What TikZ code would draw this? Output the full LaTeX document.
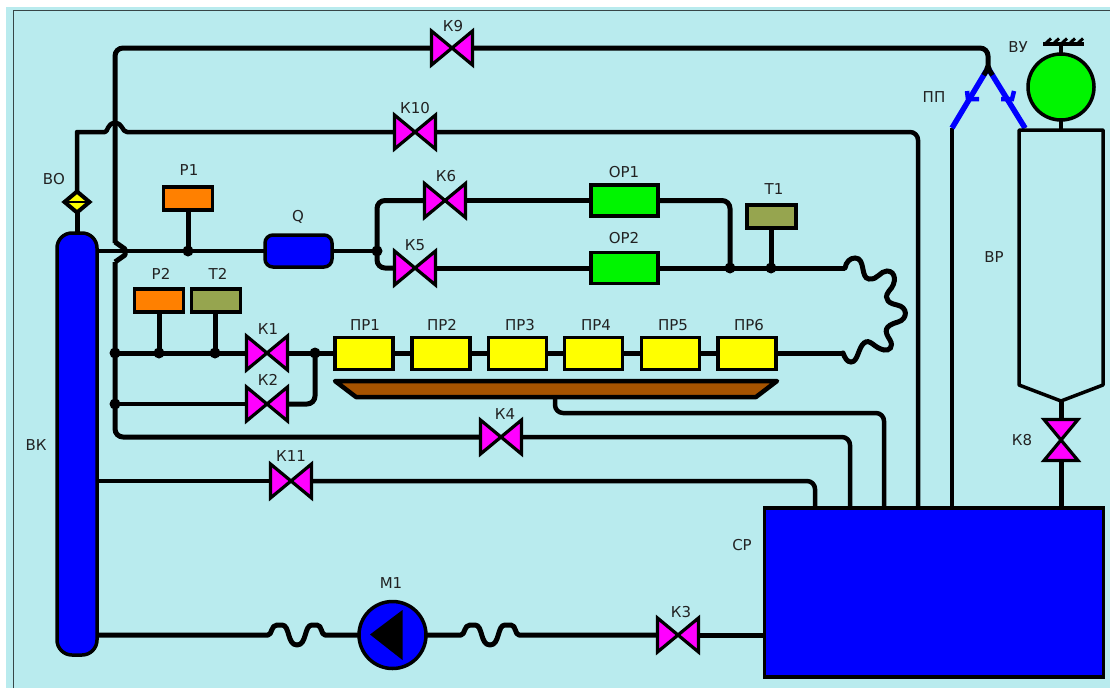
\documentclass[tikz,border=0pt]{standalone}
\usepackage{fontspec}
\setmainfont{DejaVu Sans}
\usetikzlibrary{shapes.geometric,calc}
\pgfdeclarelayer{pipes}
\pgfsetlayers{pipes,main}
\definecolor{bgc}{HTML}{B9EBEE}
\definecolor{txtc}{HTML}{222222}
\definecolor{orangec}{HTML}{FF8000}
\definecolor{olivec}{HTML}{96A54F}
\definecolor{brownc}{HTML}{A65300}
\definecolor{bluec}{HTML}{0000FF}
\definecolor{greenc}{HTML}{00F500}
\definecolor{magc}{HTML}{FF00FF}
\definecolor{yelc}{HTML}{FFFF00}
\tikzset{
  pipe/.style={draw=black,line width=5pt,rounded corners=8pt,line join=round},
  thinpipe/.style={draw=black,line width=4.5pt,rounded corners=8pt,line join=round},
  bluepipe/.style={draw=bluec,line width=5.5pt},
  dev/.style={draw=black,line width=3.5pt,inner sep=0pt,outer sep=0pt,rectangle},
  gauge/.style={dev,minimum width=49pt,minimum height=23pt},
  prbox/.style={dev,fill=yelc,minimum width=58pt,minimum height=32pt},
  orbox/.style={dev,fill=greenc,minimum width=67pt,minimum height=31pt},
  txt/.style={font=\fontsize{15}{15}\selectfont,text=txtc,inner sep=0pt},
  vbox/.style={inner sep=0pt,outer sep=0pt,rectangle},
  vfill/.style={draw=black,fill=magc,line width=3.2pt,line join=miter},
  dot/.style={circle,fill=black,inner sep=0pt,minimum size=11pt}
}
\newcommand{\valveH}[2]{\node[vbox,minimum width=41pt,minimum height=34pt] (#1) at (#2) {};
  \draw[vfill] (#1.north west) -- (#1.south east) -- (#1.north east) -- (#1.south west) -- cycle;}
\newcommand{\valveV}[2]{\node[vbox,minimum width=34pt,minimum height=41pt] (#1) at (#2) {};
  \draw[vfill] (#1.north west) -- (#1.south east) -- (#1.south west) -- (#1.north east) -- cycle;}
\begin{document}
\begin{tikzpicture}[x=1pt,y=-1pt]
\useasboundingbox (0,0) rectangle (1110,688);
\begin{pgfonlayer}{pipes}
  \fill[white] (0,0) rectangle (1110,688);
  \fill[bgc] (6,7) rectangle (1110,688);
  \draw[line width=1pt,draw=black!70!bgc] (13,688) -- (13,10.5) -- (1110,10.5);
\end{pgfonlayer}

% valves
\valveH{kA}{267,353}
\valveH{kB}{267,404}
\valveH{kC}{678,635}
\valveH{kD}{501,437}
\valveH{kE}{415,268}
\valveH{kF}{445,200.5}
\valveH{kI}{452,48}
\valveH{kJ}{415,132}
\valveH{kK}{291,481}
\valveV{kH}{1061,440}

% vessels and devices
\node[dev,fill=bluec,rounded corners=15pt,minimum width=40pt,minimum height=422pt] (vk) at (77,444) {};
\node[dev,fill=bluec,minimum width=339pt,minimum height=169pt] (sr) at (934,592.5) {};
\node[dev,fill=bluec,rounded corners=8pt,minimum width=67pt,minimum height=32pt] (q) at (298.5,251) {};
\node[gauge,fill=orangec] (ra) at (188,198.5) {};
\node[gauge,fill=orangec] (rb) at (159,300.5) {};
\node[gauge,fill=olivec] (tb) at (216,300.5) {};
\node[gauge,fill=olivec] (ta) at (771.5,216.5) {};
\node[orbox] (ora) at (624.5,200.5) {};
\node[orbox] (orb) at (624.5,268) {};
\node[prbox] (pa) at (364,353.5) {};
\node[prbox] (pb) at (441,353.5) {};
\node[prbox] (pc) at (517.5,353.5) {};
\node[prbox] (pd) at (593.5,353.5) {};
\node[prbox] (pe) at (670.5,353.5) {};
\node[prbox] (pf) at (747,353.5) {};
\node[draw=black,line width=3.5pt,fill=bluec,circle,inner sep=0pt,outer sep=0pt,minimum size=67pt] (pump) at (392.5,635) {};
\fill[black] (370,634.5) -- (402.5,610) -- (402.5,660) -- cycle;
\node[draw=black,line width=3.5pt,fill=greenc,circle,inner sep=0pt,outer sep=0pt,minimum size=66pt] (vu) at (1061,87) {};
\node[diamond,draw=black,line width=4pt,fill=yelc,inner sep=0pt,outer sep=0pt,minimum width=25pt,minimum height=21pt] (vo) at (77,202) {};
\draw[line width=2pt] (vo.west) -- (vo.east);

% tray
\draw[draw=black,fill=brownc,line width=4.5pt,line join=round]
  (335,381) -- (777,381) -- (756,397) -- (356,397) -- cycle;
% receiver VR
\coordinate (vrt) at (1061,130);
\coordinate (vrb) at (1061,401);
\draw[line width=3.5pt,fill=bgc,line join=round] (1019,130) -- (1103,130) -- (1103,385) -- (vrb) -- (1019,385) -- cycle;

% named free ends
\coordinate (jn) at (377,251);
\coordinate (jt) at (730,268);
\coordinate (jw) at (315,353);
\coordinate (ja) at (115,353);
\coordinate (jb) at (115,404);
\coordinate (jc) at (188,251);
\coordinate (jd) at (159,353);
\coordinate (je) at (215,353);
\coordinate (jf) at (771,268);
\coordinate (ppj) at (988,68);
\coordinate (ppl) at (952,128);
\coordinate (ppr) at (1025,128);
\coordinate (flA) at (845,268);
\coordinate (flB) at (843,353);
\coordinate (srA) at (815,507);
\coordinate (srB) at (850,507);
\coordinate (srC) at (884,507);
\coordinate (srD) at (918,507);
\coordinate (srE) at (952,507);
\coordinate (tray) at (555,398);

\begin{pgfonlayer}{pipes}
  % K9 line and return
  \draw[pipe] (115,243) -- (115,48) -- (kI.west);
  \draw[pipe] (kI.east) -- (988,48) -- (ppj);
  \draw[line width=5pt,line join=round] (115,242) -- (125,249) -- (125,255) -- (115,262);
  \draw[pipe] (115,262) -- (115,437) -- (kD.west);
  \draw[thinpipe] (kD.east) -- (850,437) -- (srB);
  % K10 line
  \draw[line width=4.5pt,line join=round] (vo.north) -- (77,132) -- (105,132)
     .. controls (108,132) and (107,123) .. (115,123)
     .. controls (123,123) and (122,132) .. (127,132) -- (kJ.west);
  \draw[thinpipe] (kJ.east) -- (918,132) -- (srD);
  \draw[line width=5pt] (vo.south) -- (vk.north);
  % main line
  \draw[line width=4.5pt] (vk.east |- jc) -- (q.west);
  \draw[line width=4.5pt] (q.east) -- (jn);
  \draw[line width=5pt] (ra.south) -- (jc);
  \draw[pipe] (jn) -- (377,200.5) -- (kF.west);
  \draw[pipe] (kF.east) -- (ora.west);
  \draw[pipe] (ora.east) -- (730,200.5) -- (jt);
  \draw[pipe] (jn) -- (377,268) -- (kE.west);
  \draw[pipe] (kE.east) -- (orb.west);
  \draw[pipe] (orb.east) -- (flA);
  \draw[line width=5pt] (771,229) -- (jf);
  % serpentine
  \draw[line width=5pt,line cap=round]
    (flA) .. controls (846,262) and (850,258) .. (855,258)
    .. controls (866,258) and (860,278) .. (869,279)
    .. controls (878,280) and (880,271) .. (887,271)
    .. controls (896,271) and (897,283) .. (889,291)
    .. controls (882,300) and (891,304) .. (897,305)
    .. controls (908,307) and (908,319) .. (898,322)
    .. controls (884,326) and (884,331) .. (890,340)
    .. controls (894,347) and (889,351) .. (884,350)
    .. controls (874,348) and (870,338) .. (864,343)
    .. controls (858,348) and (858,362) .. (851,362)
    .. controls (847,362) and (845,358) .. (flB);
  % heater line
  \draw[line width=5pt] (ja) -- (kA.west);
  \draw[line width=5pt] (kA.east) -- (kA.east -| pa.west);
  \draw[line width=5pt] (rb.south) -- (jd);
  \draw[line width=5pt] (tb.south -| je) -- (je);
  \draw[line width=4.5pt] (pa.east) -- (pb.west);
  \draw[line width=4.5pt] (pb.east) -- (pc.west);
  \draw[line width=4.5pt] (pc.east) -- (pd.west);
  \draw[line width=4.5pt] (pd.east) -- (pe.west);
  \draw[line width=4.5pt] (pe.east) -- (pf.west);
  \draw[line width=5pt] (pf.east |- flB) -- (flB);
  \draw[line width=4.5pt] (jb) -- (kB.west);
  \draw[pipe] (kB.east) -- (315,404) -- (jw);
  % tray drain
  \draw[thinpipe] (tray) -- (555,413) -- (884,413) -- (srC);
  % K11
  \draw[thinpipe] (vk.east |- kK) -- (kK.west);
  \draw[thinpipe] (kK.east) -- (815,481) -- (srA);
  % pump line
  \draw[line width=5pt,line join=round] (vk.east |- kC) -- (268,635)
     .. controls (272,635) and (271,625) .. (277,625) -- (282,625)
     .. controls (290,625) and (287,645) .. (297,645)
     .. controls (307,645) and (304,625) .. (312,625) -- (317,625)
     .. controls (322,625) and (321,635) .. (325,635) -- (pump.west);
  \draw[line width=5pt,line join=round] (pump.east) -- (461,635)
     .. controls (465,635) and (464,625) .. (470,625) -- (475,625)
     .. controls (483,625) and (480,645) .. (490,645)
     .. controls (500,645) and (497,625) .. (505,625) -- (511,625)
     .. controls (516,625) and (515,635) .. (519,635) -- (kC.west);
  \draw[line width=5pt] (kC.east) -- (kC.east -| sr.west);
  % PP branch
  \draw[line width=4.5pt,line join=round] (srE) -- (952,131) -- (ppl);
  \draw[line width=4pt] (ppr) -- (1023,124);
  \draw[bluepipe] (ppl) -- (ppj);
  \draw[bluepipe] (ppr) -- (ppj);
  \draw[line width=5pt] (ppj) -- ($(ppj)!0.12!(ppl)$);
  \draw[line width=5pt] (ppj) -- ($(ppj)!0.12!(ppr)$);
  \draw[draw=bluec,line width=4.5pt] (967,91) -- (968,99) -- (979,99);
  \draw[draw=bluec,line width=4.5pt] (1014,91) -- (1012,99) -- (1001,99);
  % K8
  \draw[line width=5pt] (vrb) -- (kH.north);
  \draw[line width=5pt] (kH.south) -- (1061,507);
  % VU stems and anchor
  \draw[line width=3.5pt] (vu.south) -- (vrt);
  \draw[line width=3.5pt] (vu.north) -- (1061,44);
  \draw[line width=3.5pt] (1043,44) -- (1084,44);
  \foreach \hx in {1045,1053,1061,1069,1077}
    \draw[line width=3pt] (\hx,44) -- (\hx+6,38.5);
\end{pgfonlayer}

% junction dots
\node[dot] (dn) at (jn) {};
\node[dot] (dt) at (jt) {};
\node[dot] (dw) at (jw) {};
\node[dot] (da) at (ja) {};
\node[dot] (db) at (jb) {};
\node[dot] (dc) at (jc) {};
\node[dot] (dd) at (jd) {};
\node[dot] (de) at (je) {};
\node[dot] (df) at (jf) {};
\node[dot,minimum size=7pt] (dp) at (ppj) {};

% labels
\node[txt] (lA) at (268,329) {К1};
\node[txt] (lB) at (268,380) {К2};
\node[txt] (lC) at (681,612) {К3};
\node[txt] (lD) at (505,414) {К4};
\node[txt] (lE) at (415,245) {К5};
\node[txt] (lF) at (446,176) {К6};
\node[txt] (lH) at (1022,440) {К8};
\node[txt] (lI) at (453,26) {К9};
\node[txt] (lJ) at (415,108) {К10};
\node[txt] (lK) at (291,456) {К11};
\node[txt] (lra) at (189,170) {Р1};
\node[txt] (lrb) at (161,274) {Р2};
\node[txt] (ltb) at (218,274) {Т2};
\node[txt] (lta) at (774,189) {Т1};
\node[txt] (lq) at (298,217) {Q};
\node[txt] (lora) at (624,172) {ОР1};
\node[txt] (lorb) at (624,238) {ОР2};
\node[txt] (lpa) at (365,325) {ПР1};
\node[txt] (lpb) at (442,325) {ПР2};
\node[txt] (lpc) at (520,325) {ПР3};
\node[txt] (lpd) at (596,325) {ПР4};
\node[txt] (lpe) at (673,325) {ПР5};
\node[txt] (lpf) at (749,325) {ПР6};
\node[txt] (lvo) at (54,179) {ВО};
\node[txt] (lvk) at (36,445) {ВК};
\node[txt] (lsr) at (742,545) {СР};
\node[txt] (lvr) at (994,257) {ВР};
\node[txt] (lpp) at (934,97) {ПП};
\node[txt] (lvu) at (1018,47) {ВУ};
\node[txt] (lm) at (391,583) {М1};
\end{tikzpicture}
\end{document}
